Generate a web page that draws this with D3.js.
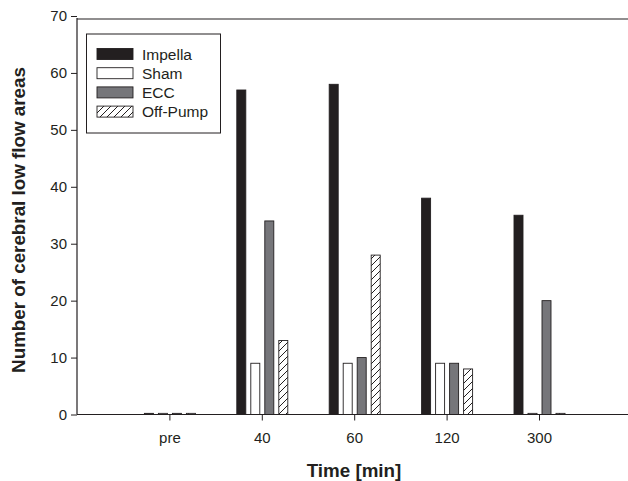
<!DOCTYPE html>
<html>
<head>
<meta charset="utf-8">
<script src="https://cdn.jsdelivr.net/npm/d3@7"></script>
<style>
  body { margin: 0; background: #fff; }
  svg { display: block; font-family: "Liberation Sans", Arial, sans-serif; }
</style>
</head>
<body>
<div id="chart"></div>
<script>
// chart data
const times = ["pre", "40", "60", "120", "300"];
const series = ["Impella", "Sham", "ECC", "Off-Pump"];
const impella = [0.2, 57, 58, 38, 35];
const sham = [0.2, 9, 9, 9, 0.2];
const ecc = [0.2, 34, 10, 9, 20];
const offPump = [0.2, 13, 28, 8, 0.2];
const yTicks = [0, 10, 20, 30, 40, 50, 60, 70];

const values = [impella, sham, ecc, offPump];
const fills = ["#231f20", "#fff", "#76767a", "url(#hatch)"];

const width = 628;
const height = 481;
const margin = { left: 77, bottom: 414.5, top: 16 };

const svg = d3.select("#chart")
  .append("svg")
  .attr("width", width)
  .attr("height", height);

// hatch pattern for Off-Pump
const pat = svg.append("defs")
  .append("pattern")
  .attr("id", "hatch")
  .attr("patternUnits", "userSpaceOnUse")
  .attr("width", 7)
  .attr("height", 7);
pat.append("rect").attr("width", 7).attr("height", 7).attr("fill", "#fff");
pat.append("path")
  .attr("d", "M-1,8 L8,-1 M-1,1 L1,-1 M6,8 L8,6")
  .attr("stroke", "#231f20")
  .attr("stroke-width", 1);

const x = d3.scaleLinear().domain([0, 6]).range([margin.left, margin.left + 6 * 92.4]);
const y = d3.scaleLinear().domain([0, 70]).range([margin.bottom, margin.top]);

const barW = 9;
const offsets = [-21, -7, 7, 21];

// bars
series.forEach((s, i) => {
  svg.append("g")
    .selectAll("rect")
    .data(values[i])
    .join("rect")
    .attr("x", (d, j) => x(j + 1) + 0.5 + offsets[i] - barW / 2)
    .attr("y", d => y(d))
    .attr("width", barW)
    .attr("height", d => y(0) - y(d))
    .attr("fill", fills[i])
    .attr("stroke", "#231f20")
    .attr("stroke-width", 0.9);
});

// frame lines
svg.append("line")
  .attr("x1", margin.left).attr("x2", width)
  .attr("y1", 19).attr("y2", 19)
  .attr("stroke", "#231f20").attr("stroke-width", 1.2);
svg.append("line")
  .attr("x1", margin.left).attr("x2", width)
  .attr("y1", y(0)).attr("y2", y(0))
  .attr("stroke", "#231f20").attr("stroke-width", 1.2);
svg.append("line")
  .attr("x1", margin.left).attr("x2", margin.left)
  .attr("y1", 18).attr("y2", y(0))
  .attr("stroke", "#231f20").attr("stroke-width", 1.2);

// y axis
const yAxis = svg.append("g")
  .attr("transform", `translate(${margin.left},0)`)
  .call(d3.axisLeft(y).tickValues(yTicks).tickSize(6).tickPadding(4));
yAxis.select(".domain").remove();
yAxis.selectAll("line").attr("stroke", "#231f20");
yAxis.selectAll("text").attr("font-size", 15).attr("fill", "#231f20")
  .attr("font-family", "Liberation Sans, Arial, sans-serif");

// x axis
const xAxis = svg.append("g")
  .attr("transform", `translate(0,${y(0)})`)
  .call(d3.axisBottom(x).tickValues([1, 2, 3, 4, 5]).tickFormat((d, i) => times[i]).tickSize(6).tickPadding(12));
xAxis.select(".domain").remove();
xAxis.selectAll("line").attr("stroke", "#231f20");
xAxis.selectAll("text").attr("font-size", 15).attr("fill", "#231f20")
  .attr("font-family", "Liberation Sans, Arial, sans-serif");

// axis titles
svg.append("text")
  .attr("x", 354)
  .attr("y", 477)
  .attr("text-anchor", "middle")
  .attr("font-size", 18.8)
  .attr("font-weight", "bold")
  .attr("fill", "#231f20")
  .text("Time [min]");

svg.append("text")
  .attr("transform", "translate(25,220) rotate(-90)")
  .attr("text-anchor", "middle")
  .attr("font-size", 18.8)
  .attr("font-weight", "bold")
  .attr("fill", "#231f20")
  .text("Number of cerebral low flow areas");

// legend
const legend = svg.append("g");
legend.append("rect")
  .attr("x", 86.5).attr("y", 34)
  .attr("width", 134).attr("height", 99)
  .attr("fill", "#fff")
  .attr("stroke", "#231f20")
  .attr("stroke-width", 1);

series.forEach((s, i) => {
  const ry = 48.5 + i * 19.2;
  legend.append("rect")
    .attr("x", 97).attr("y", ry)
    .attr("width", 36).attr("height", 11)
    .attr("fill", fills[i])
    .attr("stroke", "#231f20")
    .attr("stroke-width", 0.9);
  legend.append("text")
    .attr("x", 142).attr("y", ry + 11)
    .attr("font-size", 15.5)
    .attr("fill", "#231f20")
    .text(s);
});
</script>
</body>
</html>
